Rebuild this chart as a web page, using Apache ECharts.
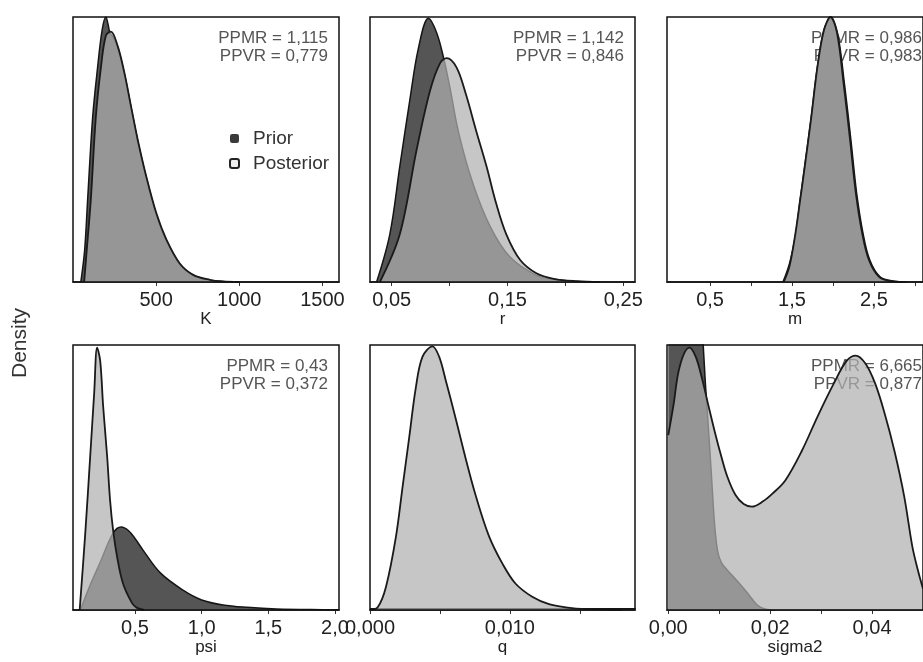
<!DOCTYPE html>
<html><head><meta charset="utf-8">
<script src="https://cdn.jsdelivr.net/npm/echarts@6/dist/echarts.min.js"></script>
<style>html,body{margin:0;padding:0;background:#fff}#c{width:923px;height:662px}</style>
</head><body><div id="c"></div>
<script>
// ---------- data (x value, relative density) ----------
const K_prior = [[47,0],[70,0.12],[88,0.31],[118,0.62],[148,0.81],[175,0.95],[198,1.0],[210,0.975],[222,0.94],[240,0.925],[269,0.885],[309,0.785],[350,0.655],[390,0.53],[440,0.395],[501,0.255],[562,0.155],[642,0.068],[723,0.026],[824,0.007],[900,0.002],[1000,0]];
const K_post  = [[67,0],[80,0.1],[107,0.31],[137,0.62],[168,0.81],[198,0.93],[228,0.945],[269,0.89],[309,0.79],[350,0.66],[390,0.535],[440,0.40],[501,0.26],[562,0.16],[642,0.07],[723,0.027],[824,0.008],[900,0.002],[1000,0]];

const r_prior = [[0.037,0],[0.0484,0.18],[0.057,0.435],[0.0658,0.69],[0.073,0.88],[0.0817,0.995],[0.0889,0.94],[0.0946,0.85],[0.100,0.74],[0.108,0.56],[0.1203,0.37],[0.135,0.21],[0.152,0.095],[0.175,0.025],[0.19,0.01],[0.21,0.002],[0.23,0]];
const r_post  = [[0.0398,0],[0.057,0.18],[0.0716,0.5],[0.083,0.72],[0.0917,0.825],[0.0975,0.845],[0.106,0.81],[0.114,0.71],[0.123,0.57],[0.132,0.435],[0.140,0.30],[0.149,0.18],[0.161,0.083],[0.175,0.033],[0.19,0.012],[0.21,0.003],[0.23,0]];

const m_prior = [[1.39,0],[1.47,0.07],[1.545,0.18],[1.60,0.31],[1.655,0.435],[1.735,0.62],[1.81,0.81],[1.89,0.95],[1.97,0.995],[2.055,0.94],[2.14,0.75],[2.22,0.535],[2.29,0.335],[2.37,0.18],[2.45,0.083],[2.575,0.02],[2.75,0.003],[2.9,0]];
const m_post  = [[1.40,0],[1.47,0.06],[1.54,0.18],[1.60,0.31],[1.656,0.435],[1.735,0.62],[1.81,0.81],[1.89,0.95],[1.97,1.0],[2.05,0.94],[2.13,0.75],[2.21,0.535],[2.28,0.335],[2.36,0.18],[2.44,0.083],[2.56,0.02],[2.7,0.003],[2.85,0]];

const psi_prior = [[0.09,0],[0.164,0.094],[0.239,0.18],[0.336,0.29],[0.396,0.313],[0.45,0.30],[0.50,0.27],[0.56,0.226],[0.69,0.14],[0.86,0.075],[1.0,0.038],[1.16,0.019],[1.34,0.01],[1.56,0.004],[1.93,0.001],[2.03,0.0005]];
const psi_post  = [[0.085,0],[0.127,0.29],[0.164,0.58],[0.194,0.82],[0.216,0.99],[0.239,0.94],[0.261,0.77],[0.291,0.58],[0.313,0.415],[0.336,0.30],[0.366,0.2],[0.41,0.10],[0.478,0.026],[0.515,0.008],[0.57,0]];

const q_prior = [[0,0.005],[0.019,0.005]];
const q_post  = [[0,0],[0.00055,0.01],[0.00114,0.087],[0.00185,0.275],[0.00233,0.465],[0.0028,0.65],[0.00328,0.84],[0.00375,0.955],[0.00447,0.995],[0.00495,0.955],[0.0054,0.87],[0.00614,0.72],[0.00685,0.57],[0.00757,0.43],[0.0085,0.28],[0.00947,0.175],[0.0104,0.10],[0.0116,0.05],[0.0128,0.022],[0.014,0.01],[0.0155,0.003],[0.018,0]];

const s2_prior = [[0,5],[0.003,3],[0.0055,1.6],[0.0066,1.1],[0.0073,0.85],[0.0079,0.68],[0.0085,0.5],[0.0091,0.32],[0.0097,0.22],[0.0104,0.18],[0.0116,0.15],[0.0135,0.11],[0.0155,0.065],[0.0174,0.02],[0.019,0.004],[0.021,0]];
const s2_post  = [[0,0.66],[0.001,0.77],[0.00226,0.92],[0.00415,0.99],[0.0054,0.955],[0.00667,0.87],[0.0079,0.77],[0.0092,0.667],[0.0104,0.58],[0.0116,0.503],[0.0132,0.434],[0.0148,0.40],[0.0164,0.39],[0.0186,0.41],[0.0205,0.44],[0.023,0.49],[0.0262,0.60],[0.0293,0.73],[0.0325,0.855],[0.035,0.94],[0.0368,0.96],[0.0387,0.93],[0.0406,0.855],[0.0425,0.74],[0.0444,0.60],[0.0463,0.43],[0.0479,0.24],[0.049,0.15],[0.050,0.08]];

const axisNames = ['K','r','m','psi','q','sigma2'];
const K_ticks = [500,1000,1500],          K_labels = [500,1000,1500];
const r_ticks = [0.05,0.10,0.15,0.20,0.25], r_labels = [0.05,0.15,0.25];
const m_ticks = [0.5,1.0,1.5,2.0,2.5,3.0],  m_labels = [0.5,1.5,2.5];
const psi_ticks = [0.5,1.0,1.5,2.0],       psi_labels = [0.5,1.0,1.5,2.0];
const q_ticks = [0,0.005,0.010,0.015],     q_labels = [0,0.010];
const s2_ticks = [0,0.01,0.02,0.03,0.04], s2_labels = [0,0.02,0.04];
const PPMR = ['1,115','1,142','0,986','0,43',null,'6,665'];
const PPVR = ['0,779','0,846','0,983','0,372',null,'0,877'];
const legendNames = ['Prior','Posterior'];

// ---------- layout ----------
const panels = [
  {prior:K_prior, post:K_post, ticks:K_ticks, labels:K_labels, min:0, max:1600, dec:0},
  {prior:r_prior, post:r_post, ticks:r_ticks, labels:r_labels, min:0.0313, max:0.2601, dec:2},
  {prior:m_prior, post:m_post, ticks:m_ticks, labels:m_labels, min:-0.026, max:3.10, dec:1},
  {prior:psi_prior, post:psi_post, ticks:psi_ticks, labels:psi_labels, min:0.035, max:2.03, dec:1},
  {prior:q_prior, post:q_post, ticks:q_ticks, labels:q_labels, min:0, max:0.01895, dec:3},
  {prior:s2_prior, post:s2_post, ticks:s2_ticks, labels:s2_labels, min:-0.00025, max:0.0500, dec:2}
];
const lefts = [73, 370, 667], widths = [266, 265, 266];
const tops = [17, 345], H = 265;
const FONT = 'Liberation Sans, Arial, sans-serif';

const grids = [], xAxes = [], yAxes = [], series = [], graphics = [];
panels.forEach((p, i) => {
  const col = i % 3, row = Math.floor(i / 3);
  grids.push({left: lefts[col], top: tops[row], width: widths[col], height: H,
    show: true, borderColor: '#111', borderWidth: 1.5, backgroundColor: 'transparent', z: 10});
  xAxes.push({type: 'value', gridIndex: i, min: p.min, max: p.max,
    name: axisNames[i], nameLocation: 'middle', nameGap: 28,
    nameTextStyle: {fontFamily: FONT, fontSize: 17, color: '#222'},
    axisLine: {show: true, onZero: false, lineStyle: {color: '#111', width: 1.5}},
    axisTick: {show: true, length: 4, lineStyle: {color: '#333'}, customValues: p.ticks},
    axisLabel: {show: true, margin: 8, fontFamily: FONT, fontSize: 20, color: '#222',
      customValues: p.labels, hideOverlap: false,
      formatter: v => v.toFixed(p.dec).replace('.', ',')},
    splitLine: {show: false}});
  yAxes.push({type: 'value', gridIndex: i, min: 0, max: 1, show: false});
  series.push({name: 'Prior', type: 'line', xAxisIndex: i, yAxisIndex: i, data: p.prior,
    smooth: 0.35, showSymbol: false, clip: true, z: 3,
    lineStyle: {color: '#151515', width: 1.5}, areaStyle: {color: '#555555', opacity: 1, origin: 'start'}});
  series.push({name: 'Posterior', type: 'line', xAxisIndex: i, yAxisIndex: i, data: p.post,
    smooth: 0.35, showSymbol: false, clip: true, z: 4,
    lineStyle: {color: '#1a1a1a', width: 1.8}, areaStyle: {color: 'rgba(176,176,176,0.72)', opacity: 1, origin: 'start'}});
  if (PPMR[i]) {
    graphics.push({type: 'text', z: 1, x: lefts[col] + widths[col] - 11, y: tops[row] + 20 - 8,
      style: {text: 'PPMR = ' + PPMR[i] + '\nPPVR = ' + PPVR[i], align: 'right', verticalAlign: 'top',
        font: '17px ' + FONT, lineHeight: 18, fill: '#555'}});
  }
});
graphics.push({type: 'text', x: 20, y: 343, rotation: Math.PI / 2, z: 1,
  style: {text: 'Density', align: 'center', verticalAlign: 'middle', font: '21px ' + FONT, fill: '#333'}});

const chart = echarts.init(document.getElementById('c'), null, {renderer: 'canvas'});
chart.setOption({
  animation: false,
  backgroundColor: '#fff',
  grid: grids, xAxis: xAxes, yAxis: yAxes, series: series,
  legend: {left: 229, top: 129, orient: 'vertical', padding: 0, itemGap: 6, itemWidth: 9, itemHeight: 9,
    selectedMode: false, z: 20,
    textStyle: {fontFamily: FONT, fontSize: 19, color: '#333', padding: [0, 0, 0, 9]},
    data: [
      {name: legendNames[0], icon: 'roundRect', itemStyle: {color: '#3a3a3a', borderWidth: 0}},
      {name: legendNames[1], icon: 'roundRect', itemStyle: {color: '#f0f0f0', borderColor: '#222', borderWidth: 2}}
    ]},
  graphic: graphics
});
</script></body></html>
